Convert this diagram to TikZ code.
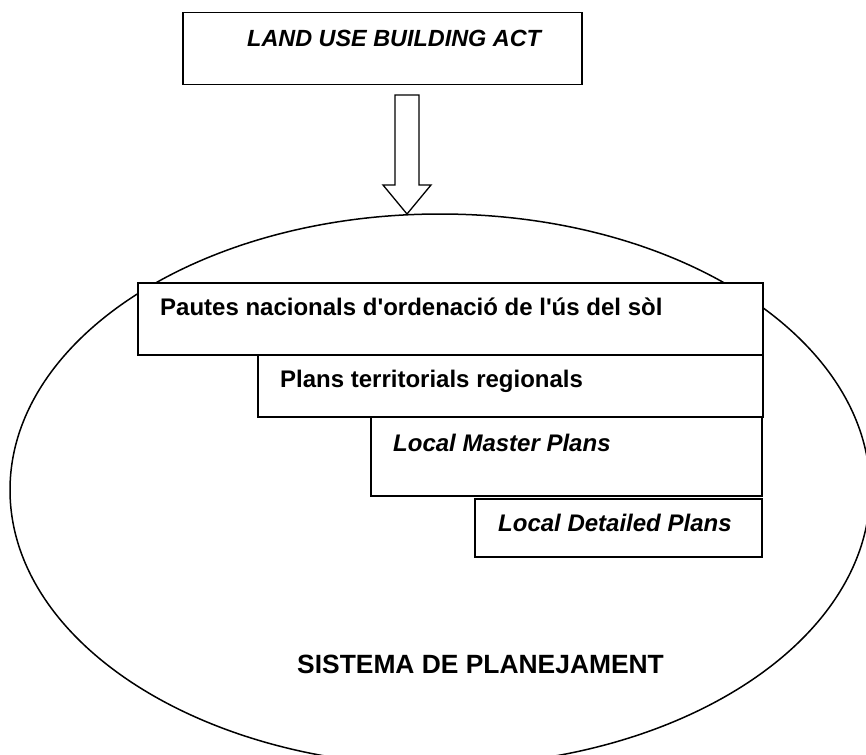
\documentclass[tikz,border=0pt]{standalone}
\usepackage{fontspec}
\setmainfont{Liberation Sans}
\begin{document}
\begin{tikzpicture}[x=1bp,y=-1bp,
  frame/.style={draw=black,line width=1.5bp,fill=white,rectangle,inner sep=0pt},
  lbl/.style={anchor=base west,inner sep=0pt,font=\fontsize{24bp}{28bp}\selectfont\bfseries},
  ilbl/.style={lbl,font=\fontsize{24bp}{28bp}\selectfont\bfseries\itshape},
  arrowbody/.style={draw=black,line width=1.3bp,fill=white,line join=miter}]
\useasboundingbox (0,0) rectangle (866,755);
\clip (0,0) rectangle (866,755);

% planning system outline
\draw[line width=1.5bp] (440,490) ellipse [x radius=430, y radius=276];

% act box
\node[frame,minimum width=399bp,minimum height=72bp] (act) at (382.5,48.5) {};
\node[ilbl,font=\fontsize{23.4bp}{28bp}\selectfont\bfseries\itshape] (actT) at (247,47) {LAND USE BUILDING ACT};

% hollow block arrow from the act into the system
\draw[arrowbody] (395,95) -- (419,95) -- (419,185) -- (431,185) -- (407,214)
  -- (383,185) -- (395,185) -- cycle;

% stepped plan boxes
\node[frame,minimum width=625bp,minimum height=72bp] (p1) at (450.5,319) {};
\node[frame,minimum width=505bp,minimum height=62bp] (p2) at (510.5,386) {};
\node[frame,minimum width=391bp,minimum height=79bp] (p3) at (566.5,456.5) {};
\node[frame,minimum width=287bp,minimum height=58bp] (p4) at (618.5,528) {};

\node[lbl] (p1T) at (160,315) {Pautes nacionals d\textquotesingle ordenació de l\textquotesingle ús del sòl};
\node[lbl] (p2T) at (280,387) {Plans territorials regionals};
\node[ilbl] (p3T) at (393,451) {Local Master Plans};
\node[ilbl] (p4T) at (498,531) {Local Detailed Plans};

\node[lbl,font=\fontsize{26.4bp}{30bp}\selectfont\bfseries] (sys) at (297,673) {SISTEMA DE PLANEJAMENT};
\end{tikzpicture}
\end{document}
